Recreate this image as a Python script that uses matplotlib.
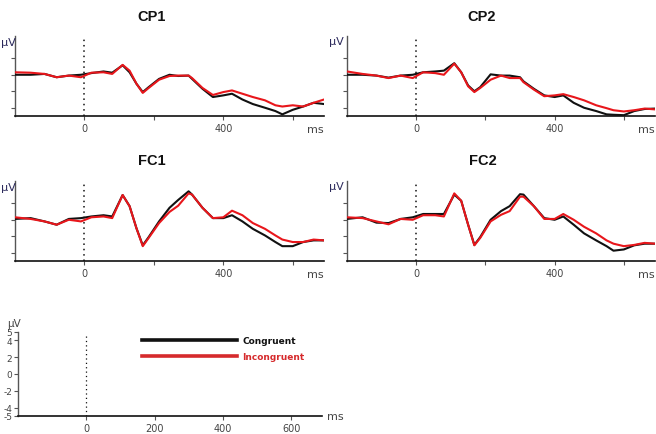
import matplotlib
matplotlib.use("Agg")
import matplotlib.pyplot as plt

# ---- data ----
times = [-200, -155, -115, -80, -45, -10, 20, 55, 80, 110, 130, 150, 168, 185, 215,
         245, 270, 300, 310, 340, 370, 400, 425, 455, 485, 520, 550, 570, 600, 630, 660, 690]

cp1_congruent = [0, 0, 0.1, -0.3, -0.1, 0, 0.2, 0.4, 0.25, 1.15, 0.3, -1.1, -2.1, -1.5, -0.5,
                 0, -0.15, -0.1, -0.5, -1.7, -2.7, -2.5, -2.3, -3.0, -3.55, -4.0, -4.4, -4.8,
                 -4.25, -3.85, -3.4, -3.55]
cp1_incongruent = [0.3, 0.25, 0.1, -0.3, -0.1, -0.3, 0.25, 0.3, 0.1, 1.2, 0.5, -1.1, -2.2, -1.6, -0.6,
                   -0.15, -0.1, -0.1, -0.4, -1.6, -2.45, -2.1, -1.9, -2.3, -2.7, -3.1, -3.7, -3.85,
                   -3.7, -3.85, -3.4, -3.0]

cp2_congruent = [0, 0, -0.1, -0.35, -0.1, 0, 0.3, 0.4, 0.5, 1.4, 0.3, -1.3, -2.0, -1.5, 0.05,
                 -0.1, -0.1, -0.3, -0.8, -1.7, -2.5, -2.7, -2.5, -3.4, -4.0, -4.4, -4.8, -4.85,
                 -4.9, -4.4, -4.15, -4.1]
cp2_incongruent = [0.4, 0.1, -0.1, -0.4, -0.1, -0.4, 0.3, 0.2, 0, 1.35, 0.3, -1.4, -2.1, -1.6, -0.6,
                   -0.1, -0.4, -0.4, -0.9, -1.8, -2.6, -2.5, -2.35, -2.7, -3.1, -3.7, -4.05, -4.3,
                   -4.45, -4.3, -4.1, -4.2]

fc1_congruent = [0.1, 0.2, -0.2, -0.6, 0.1, 0.2, 0.4, 0.55, 0.4, 3.0, 1.65, -1.05, -3.1, -2.1, -0.2,
                 1.45, 2.4, 3.45, 3.05, 1.45, 0.2, 0.2, 0.55, -0.2, -1.1, -1.9, -2.7, -3.2,
                 -3.2, -2.7, -2.5, -2.5]
fc1_incongruent = [0.3, 0.1, -0.2, -0.6, 0, -0.2, 0.3, 0.4, 0.2, 3.0, 1.65, -1.05, -3.2, -2.2, -0.4,
                   0.95, 1.7, 3.2, 3.05, 1.45, 0.2, 0.3, 1.1, 0.55, -0.4, -1.1, -1.9, -2.4,
                   -2.7, -2.7, -2.4, -2.5]

fc2_congruent = [0.1, 0.3, -0.35, -0.4, 0.1, 0.3, 0.7, 0.7, 0.7, 3.05, 2.3, -0.6, -3.05, -2.1, 0,
                 1.05, 1.65, 3.1, 3.05, 1.65, 0.2, 0, 0.4, -0.6, -1.65, -2.5, -3.2, -3.75,
                 -3.6, -3.1, -2.9, -2.9]
fc2_incongruent = [0.3, 0.2, -0.2, -0.55, 0.1, 0, 0.55, 0.55, 0.4, 3.2, 2.3, -0.6, -3.1, -2.2, -0.2,
                   0.6, 1.05, 2.8, 2.8, 1.65, 0.1, 0.1, 0.7, 0, -0.85, -1.65, -2.5, -2.9,
                   -3.2, -3.05, -2.8, -2.9]

panel_titles = ["CP1", "CP2", "FC1", "FC2"]
series = [(cp1_congruent, cp1_incongruent), (cp2_congruent, cp2_incongruent),
          (fc1_congruent, fc1_incongruent), (fc2_congruent, fc2_incongruent)]
legend_labels = ["Congruent", "Incongruent"]
scale_yticks = [-5, -4, -2, 0, 2, 4, 5]
scale_xticks = [0, 200, 400, 600]

# ---- style ----
W, H = 656, 435
BLACK = "#111111"
RED = "#e8161b"
TICKC = "#444444"
UVC = "#2c2a5c"
plt.rcParams['font.family'] = ['DejaVu Sans']

fig = plt.figure(figsize=(W / 100, H / 100), dpi=100)


def px_axes(left, top, right, bottom):
    return fig.add_axes([left / W, 1 - bottom / H, (right - left) / W, (bottom - top) / H])


def style_axes(ax):
    for s in ["top", "right"]:
        ax.spines[s].set_visible(False)
    ax.spines["left"].set_color("#555555")
    ax.spines["bottom"].set_color("#111111")
    ax.spines["left"].set_linewidth(1.0)
    ax.spines["bottom"].set_linewidth(1.2)
    ax.tick_params(direction="out", length=3, width=0.8, colors="#555555",
                   labelsize=7, labelcolor=TICKC, pad=2)
    ax.set_facecolor("none")


panel_boxes = [(15, 37, 324, 117), (347, 37, 655, 117),
               (15, 182, 324, 262), (347, 182, 655, 262)]
title_pos = [(152, 17), (482, 17), (152, 161), (483, 161)]

for (box, tpos, title, (cong, incong)) in zip(panel_boxes, title_pos, panel_titles, series):
    ax = px_axes(*box)
    style_axes(ax)
    ax.set_xlim(-200, 690)
    ax.set_ylim(-5.0, 4.7)
    ax.axvline(0, color="#111111", linestyle=(0, (1, 2.5)), linewidth=1.1, zorder=1)
    ax.plot(times, cong, color=BLACK, linewidth=1.5, zorder=3)
    ax.plot(times, incong, color=RED, linewidth=1.5, zorder=4)
    ax.set_yticks([-4, -2, 0, 2])
    ax.set_yticklabels([])
    ax.set_xticks(scale_xticks)
    ax.set_xticklabels(["0", "", "400", ""])
    if box[0] < 100:
        fig.text(1 / W, 1 - (box[1] + 1) / H, "µV", ha="left", va="top",
                 fontsize=8, color=UVC)
    else:
        ax.text(-0.012, 1.0, "µV", transform=ax.transAxes, ha="right", va="top",
                fontsize=8, color=UVC)
    ax.text(1.0, -0.1, "ms", transform=ax.transAxes, ha="right", va="top",
            fontsize=8, color=TICKC)
    fig.text(tpos[0] / W, 1 - tpos[1] / H, title, ha="center", va="center",
             fontsize=10.5, fontweight="bold", family="Liberation Sans", color="#111111")

# ---- scale / legend panel ----
axs = px_axes(18, 333, 322, 417)
style_axes(axs)
axs.set_xlim(-200, 690)
axs.set_ylim(-5, 5)
axs.set_yticks(scale_yticks)
axs.set_yticklabels([str(v) for v in scale_yticks])
axs.tick_params(axis="y", labelsize=6.5, pad=1)
axs.set_xticks(scale_xticks)
axs.set_xticklabels([str(v) for v in scale_xticks])
axs.axvline(0, ymax=0.95, color="#111111", linestyle=(0, (1, 2.5)), linewidth=0.9)
axs.text(-0.012, 1.05, "µV", transform=axs.transAxes, ha="center", va="bottom",
         fontsize=7.5, color=TICKC)
axs.text(1.015, 0.0, "ms", transform=axs.transAxes, ha="left", va="center",
         fontsize=8, color=TICKC)

h1, = axs.plot([], [], color=BLACK, linewidth=2.6)
h2, = axs.plot([], [], color="#d62a2c", linewidth=2.6)
leg = axs.legend([h1, h2], legend_labels, loc="upper left",
                 bbox_to_anchor=(142 / W, 1 - 337 / H), bbox_transform=fig.transFigure,
                 frameon=False, borderpad=0, borderaxespad=0, handlelength=10.5,
                 handletextpad=0.6, labelspacing=0.75,
                 prop={"size": 6.5, "weight": "bold"})
leg.get_texts()[0].set_color("#111111")
leg.get_texts()[1].set_color("#d62a2c")

fig.savefig("out.png", dpi=100)
